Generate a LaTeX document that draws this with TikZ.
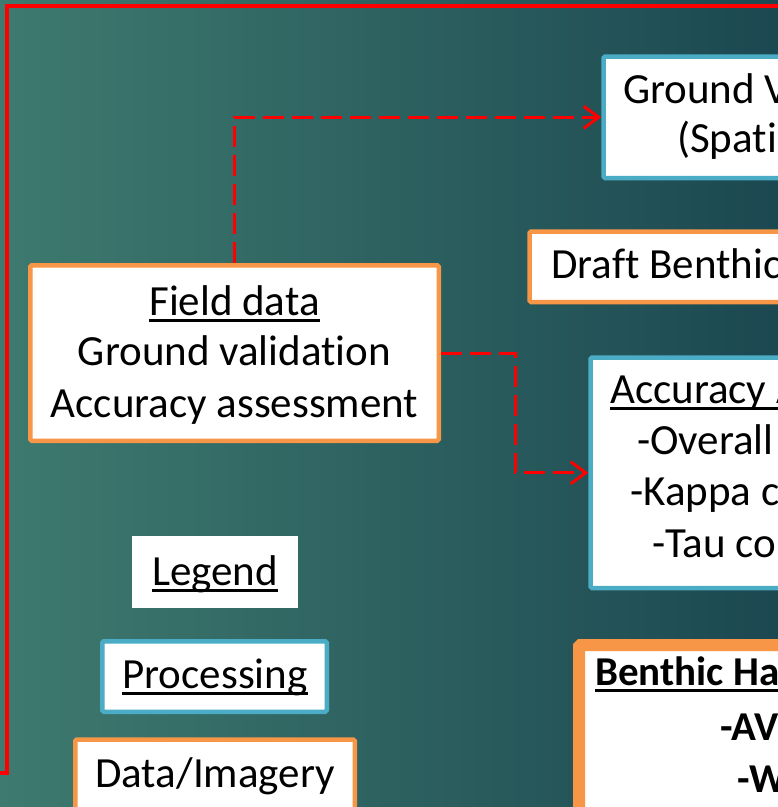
\documentclass[tikz,border=0pt]{standalone}
\usepackage{fontspec}
\setmainfont{Carlito}[Ligatures=NoCommon]
\usetikzlibrary{arrows.meta}
\definecolor{boxorange}{HTML}{F79646}
\definecolor{boxblue}{HTML}{4BACC6}
\definecolor{bgleft}{HTML}{3E7A6F}
\definecolor{bgright}{HTML}{1C4851}
\newsavebox\ulbox
\newcommand\ulx[1]{\sbox\ulbox{#1}\rlap{\rule[-6.5pt]{\wd\ulbox}{2.2pt}}\usebox\ulbox}
\tikzset{
  txt/.style={font=\fontsize{43}{51.5}\selectfont, text=black, inner sep=0pt},
  btxt/.style={font=\fontsize{41}{50}\selectfont\bfseries, text=black, inner sep=0pt},
  obox/.style={draw=boxorange, line width=4.5pt, fill=white, rounded corners=1.5pt, inner sep=0pt},
  bbox/.style={draw=boxblue, line width=4.5pt, fill=white, rounded corners=1.5pt, inner sep=0pt},
  dflow/.style={draw=red, line width=3pt, dash pattern=on 21pt off 8pt,
    -{Straight Barb[length=15pt,width=22pt]}},
}
\begin{document}
\begin{tikzpicture}[x=1pt,y=-1pt]
\useasboundingbox (0,0) rectangle (778,807);
\clip (0,0) rectangle (778,807);
\shade[left color=bgleft,right color=bgright] (0,0) rectangle (778,807);
% red frame
\draw[red, line width=4pt] (0,773) -- (6.5,773) -- (6.5,5.5) -- (790,5.5);
% boxes
\node[obox, minimum width=408.5pt, minimum height=175.5pt] (field) at (234.5,353) {};
\node[txt, anchor=base] (fieldt1) at (234.5,315) {\ulx{Field data}};
\node[txt, anchor=base] (fieldt2) at (234.5,365) {Ground validation};
\node[txt, anchor=base] (fieldt3) at (234.5,417) {Accuracy assessment};
\node[bbox, anchor=north west, minimum width=300pt, minimum height=121.5pt] (gv) at (601.25,54.25) {};
\node[obox, anchor=north west, minimum width=300pt, minimum height=70.5pt] (draft) at (527.25,229.25) {};
\node[bbox, anchor=north west, minimum width=300pt, minimum height=230.5pt] (acc) at (588.25,355.25) {};
\node[obox, line width=12pt, anchor=north west, minimum width=300pt, minimum height=300pt] (bh) at (573,639) {};
\node[fill=white, minimum width=166pt, minimum height=72pt] (legend) at (215,572) {};
\node[txt, anchor=base] (legendt) at (215,585) {\ulx{Legend}};
\node[bbox, minimum width=224.5pt, minimum height=70.5pt] (proc) at (214.5,676.5) {};
\node[txt, anchor=base] (proct) at (215,688) {\ulx{Processing}};
\node[obox, anchor=north, minimum width=279.5pt, minimum height=100pt] (data) at (215,737.25) {};
\node[txt, anchor=base] (datat) at (215,787) {Data/Imagery};
% texts of clipped boxes
\node[txt, anchor=base west] (gvt1) at (623,103) {Ground V};
\node[txt, anchor=base west] (gvt2) at (677,152) {(Spatia};
\node[txt, anchor=base west] (drt) at (551,278) {Draft Benthic};
\node[txt, anchor=base west] (acct1) at (610,403) {\ulx{Accuracy A}};
\node[txt, anchor=base west] (acct2) at (637,454) {-Overall};
\node[txt, anchor=base west] (acct3) at (630,505) {-Kappa c};
\node[txt, anchor=base west] (acct4) at (652,557) {-Tau co};
\node[btxt, anchor=base west] (bht1) at (595,685) {\ulx{Benthic Ha}};
\node[btxt, anchor=base west] (bht2) at (720,740) {-AV};
\node[btxt, anchor=base west] (bht3) at (737,792) {-W};
% connectors
\draw[dflow] (field.north) |- (gv.west);
\draw[dflow] (field.east) -- ++(74.25,0) |- (acc.west);
\end{tikzpicture}
\end{document}
